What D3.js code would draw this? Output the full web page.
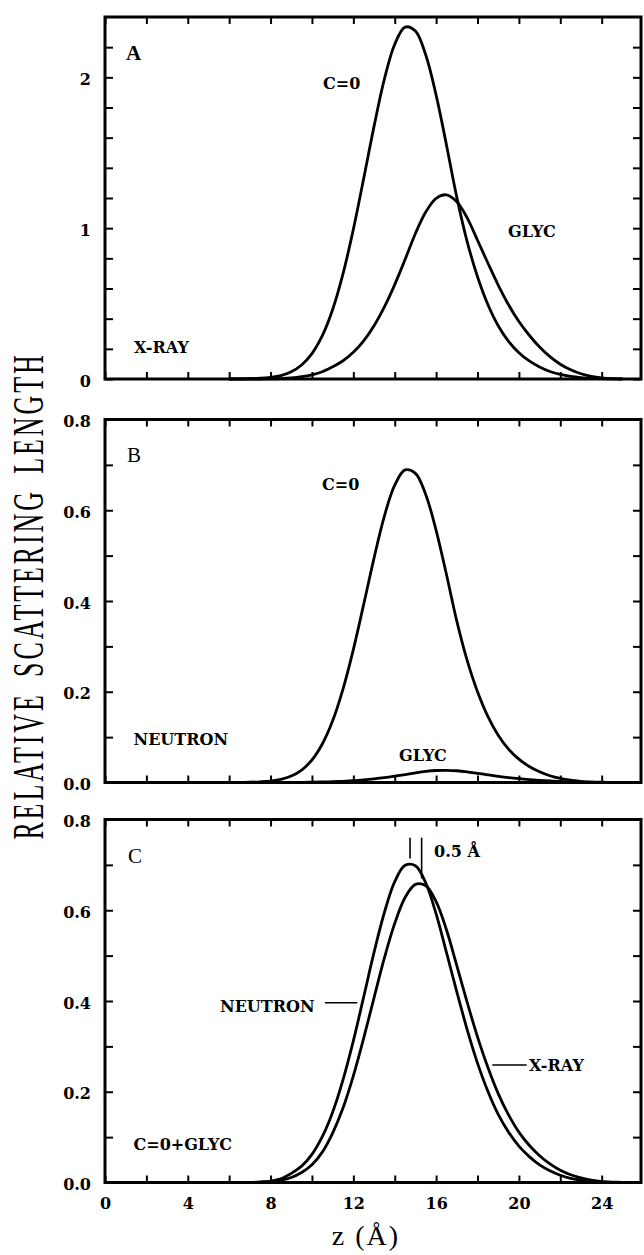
<!DOCTYPE html>
<html>
<head>
<meta charset="utf-8">
<script src="https://cdn.jsdelivr.net/npm/d3@7"></script>
<style>
  html, body { margin: 0; padding: 0; background: #fff; }
  svg { display: block; }
</style>
</head>
<body>
<div id="chart"></div>
<script>
//////// DATA ////////
// sample positions along z (Å)
var zPts = [6, 6.5, 7, 7.5, 8, 8.5, 9, 9.5, 10, 10.5,
            11, 11.5, 12, 12.5, 13, 13.5, 14, 14.5, 15, 15.5,
            16, 16.5, 17, 17.5, 18, 18.5, 19, 19.5, 20, 20.5,
            21, 21.5, 22, 22.5, 23, 23.5, 24, 24.5, 25];

// A: x-ray
var xrayCO = [0, 0.001, 0.002, 0.005, 0.011, 0.023, 0.048, 0.093, 0.168, 0.287,
              0.461, 0.697, 0.992, 1.329, 1.675, 1.988, 2.219, 2.333, 2.307, 2.148,
              1.882, 1.552, 1.204, 0.911, 0.678, 0.494, 0.353, 0.249, 0.174, 0.120,
              0.080, 0.050, 0.030, 0.017, 0.009, 0.004, 0.002, 0.001, 0];
var xrayGlyc = [0, 0, 0, 0, 0.001, 0.003, 0.007, 0.015, 0.028, 0.048,
                0.081, 0.121, 0.177, 0.253, 0.353, 0.478, 0.626, 0.792, 0.965, 1.107,
                1.198, 1.221, 1.175, 1.068, 0.920, 0.769, 0.623, 0.492, 0.381, 0.290,
                0.212, 0.148, 0.098, 0.061, 0.035, 0.018, 0.008, 0.003, 0.001];

// B: neutron
var neutronCO = [0, 0.0003, 0.0006, 0.0015, 0.0032, 0.0068, 0.0142, 0.0275, 0.0496, 0.0848,
                 0.136, 0.206, 0.293, 0.3925, 0.4946, 0.5871, 0.6553, 0.6889, 0.6813, 0.6343,
                 0.5558, 0.4583, 0.3555, 0.269, 0.2002, 0.1459, 0.1042, 0.0735, 0.0514, 0.0354,
                 0.0236, 0.0148, 0.0089, 0.005, 0.0027, 0.0012, 0.0006, 0.0003, 0];
var neutronGlyc = [0, 0, 0, 0, 0, 0.0001, 0.0002, 0.0003, 0.0006, 0.0011,
                   0.0018, 0.0027, 0.0039, 0.0056, 0.0078, 0.0105, 0.0138, 0.0174, 0.0212, 0.0244,
                   0.0264, 0.0269, 0.0259, 0.0235, 0.0202, 0.0169, 0.0137, 0.0108, 0.0084, 0.0064,
                   0.0047, 0.0033, 0.0022, 0.0013, 0.0007, 0.0003, 0.0001, 0, 0];

// C: C=0+GLYC
var neutronSum = [0, 0, 0, 0.001, 0.003, 0.008, 0.020, 0.036, 0.062, 0.101,
                  0.155, 0.226, 0.312, 0.409, 0.507, 0.595, 0.663, 0.699, 0.698, 0.660,
                  0.592, 0.507, 0.420, 0.337, 0.263, 0.201, 0.150, 0.111, 0.080, 0.057,
                  0.039, 0.026, 0.016, 0.009, 0.005, 0.002, 0.001, 0, 0];
var xraySum = [0, 0, 0, 0.001, 0.002, 0.005, 0.011, 0.022, 0.039, 0.067,
               0.109, 0.164, 0.235, 0.318, 0.407, 0.495, 0.571, 0.628, 0.657, 0.654,
               0.619, 0.557, 0.478, 0.397, 0.321, 0.254, 0.196, 0.149, 0.111, 0.082,
               0.059, 0.041, 0.027, 0.017, 0.010, 0.005, 0.002, 0.001, 0];

// peak positions marked in C (0.5 Å shift)
var peakZ = [14.74, 15.3];

// ticks
var zTicks = [0, 2, 4, 6, 8, 10, 12, 14, 16, 18, 20, 22, 24];
var zLabels = [0, 4, 8, 12, 16, 20, 24];
var yTicksA = [0, 0.2, 0.4, 0.6, 0.8, 1, 1.2, 1.4, 1.6, 1.8, 2, 2.2];
var yLabelsA = [0, 1, 2];
var yTicksBC = [0, 0.1, 0.2, 0.3, 0.4, 0.5, 0.6, 0.7, 0.8];
var yLabelsBC = [0, 0.2, 0.4, 0.6, 0.8];


//////// CANVAS ////////
var W = 644, H = 1255;
var serifBold = "'DejaVu Serif', serif";
var timesLike = "'Liberation Serif', 'Times New Roman', serif";

var svg = d3.select("#chart").append("svg")
    .attr("width", W)
    .attr("height", H);

var x = d3.scaleLinear()
    .domain([0, 25.9])
    .range([105, 641]);

var panels = [
    { id: "A", top: 17, bottom: 379, ymax: 2.4, ticks: yTicksA, labels: yLabelsA, fmt: d3.format("d"),
      curves: [xrayCO, xrayGlyc] },
    { id: "B", top: 419.5, bottom: 782.5, ymax: 0.8, ticks: yTicksBC, labels: yLabelsBC, fmt: d3.format(".1f"),
      curves: [neutronCO, neutronGlyc] },
    { id: "C", top: 819.5, bottom: 1182.5, ymax: 0.8, ticks: yTicksBC, labels: yLabelsBC, fmt: d3.format(".1f"),
      curves: [neutronSum, xraySum] }
];

panels.forEach(function(p, i) {
    var y = d3.scaleLinear().domain([0, p.ymax]).range([p.bottom, p.top]);
    p.y = y;
    var g = svg.append("g").attr("class", "panel panel-" + p.id);

    // left axis (ticks inward, labels outside)
    g.append("g")
        .attr("class", "y axis")
        .attr("transform", "translate(" + x.range()[0] + ",0)")
        .call(d3.axisLeft(y)
            .tickValues(p.ticks)
            .tickSize(-8)
            .tickPadding(14)
            .tickFormat(function(d) { return p.labels.indexOf(d) >= 0 ? p.fmt(d) : ""; }));

    // right axis
    g.append("g")
        .attr("class", "y axis right")
        .attr("transform", "translate(" + x.range()[1] + ",0)")
        .call(d3.axisRight(y).tickValues(p.ticks).tickSize(-8).tickFormat(""));

    // top axis
    g.append("g")
        .attr("class", "x axis top")
        .attr("transform", "translate(0," + p.top + ")")
        .call(d3.axisTop(x).tickValues(zTicks).tickSize(-7).tickFormat(""));

    // bottom axis (labels only on the last panel)
    var last = i === panels.length - 1;
    g.append("g")
        .attr("class", "x axis bottom")
        .attr("transform", "translate(0," + p.bottom + ")")
        .call(d3.axisBottom(x)
            .tickValues(zTicks)
            .tickSize(-7)
            .tickPadding(15)
            .tickFormat(function(d) { return last && zLabels.indexOf(d) >= 0 ? d : ""; }));

    g.selectAll(".axis .domain").remove();
    g.selectAll(".axis line").attr("stroke", "#000").attr("stroke-width", 2);
    g.selectAll(".axis text")
        .attr("font-family", serifBold)
        .attr("font-weight", "bold")
        .attr("font-size", 16)
        .attr("fill", "#000");
    g.selectAll(".y.axis text").attr("dy", "0.45em");

    // frame
    g.append("rect")
        .attr("x", x.range()[0])
        .attr("y", p.top)
        .attr("width", x.range()[1] - x.range()[0])
        .attr("height", p.bottom - p.top)
        .attr("fill", "none")
        .attr("stroke", "#000")
        .attr("stroke-width", 3);

    // curves
    var line = d3.line()
        .x(function(d) { return x(d[0]); })
        .y(function(d) { return y(d[1]); })
        .curve(d3.curveCatmullRom.alpha(0.5));

    p.curves.forEach(function(vals) {
        g.append("path")
            .datum(zPts.map(function(z, k) { return [z, vals[k]]; }))
            .attr("d", line)
            .attr("fill", "none")
            .attr("stroke", "#000")
            .attr("stroke-width", 2.8)
            .attr("stroke-linejoin", "round");
    });
});

//////// LABELS ////////
var texts = [
    { t: "A", x: 126, y: 60, f: timesLike, s: 21, w: "bold" },
    { t: "C=0", x: 323, y: 88.5 },
    { t: "GLYC", x: 508, y: 236.5 },
    { t: "X-RAY", x: 134, y: 352.5 },
    { t: "B", x: 127, y: 461.5, f: timesLike, s: 21, w: "normal" },
    { t: "C=0", x: 322, y: 490 },
    { t: "NEUTRON", x: 133.5, y: 745 },
    { t: "GLYC", x: 399, y: 760.5 },
    { t: "C", x: 128, y: 863, f: timesLike, s: 21, w: "normal" },
    { t: "0.5 Å", x: 434, y: 856.5 },
    { t: "NEUTRON", x: 220, y: 1011.5 },
    { t: "X-RAY", x: 529, y: 1070.5 },
    { t: "C=0+GLYC", x: 133.5, y: 1150 }
];

svg.append("g").selectAll("text")
    .data(texts)
    .enter().append("text")
        .attr("x", function(d) { return d.x; })
        .attr("y", function(d) { return d.y; })
        .attr("font-family", function(d) { return d.f || serifBold; })
        .attr("font-size", function(d) { return d.s || 16; })
        .attr("font-weight", function(d) { return d.w || "bold"; })
        .attr("fill", "#000")
        .text(function(d) { return d.t; });

// leader lines in C
var pc = panels[2];
var leaders = [
    [325, 1002.7, 357.3, 1002.7],
    [492.3, 1065, 526.7, 1065]
];
svg.append("g").selectAll("line")
    .data(leaders)
    .enter().append("line")
        .attr("x1", function(d) { return d[0]; })
        .attr("y1", function(d) { return d[1]; })
        .attr("x2", function(d) { return d[2]; })
        .attr("y2", function(d) { return d[3]; })
        .attr("stroke", "#000")
        .attr("stroke-width", 1.6);

// peak markers (0.5 Å)
var markerBottom = [0.714, 0.670];
svg.append("g").selectAll("line")
    .data(peakZ)
    .enter().append("line")
        .attr("x1", function(d) { return x(d); })
        .attr("x2", function(d) { return x(d); })
        .attr("y1", pc.y(0.76))
        .attr("y2", function(d, k) { return pc.y(markerBottom[k]); })
        .attr("stroke", "#000")
        .attr("stroke-width", 1.6);

//////// AXIS TITLES ////////
svg.append("text")
    .attr("transform", "translate(43,596) rotate(-90) scale(1,1.74)")
    .attr("text-anchor", "middle")
    .attr("font-family", timesLike)
    .attr("font-size", 26)
    .attr("letter-spacing", 2.9)
    .attr("word-spacing", 6)
    .attr("fill", "#000")
    .text("RELATIVE SCATTERING LENGTH");

svg.append("text")
    .attr("x", 366)
    .attr("y", 1245)
    .attr("text-anchor", "middle")
    .attr("font-family", timesLike)
    .attr("font-size", 28)
    .attr("letter-spacing", 2)
    .attr("fill", "#000")
    .text("z (Å)");
</script>
</body>
</html>
